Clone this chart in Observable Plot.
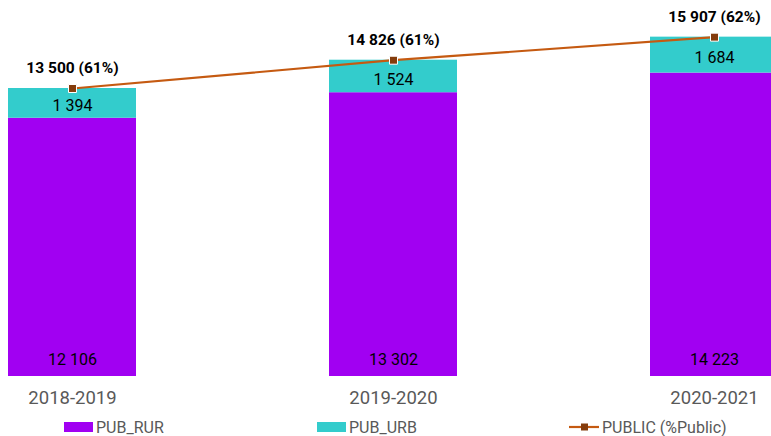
<!DOCTYPE html>
<html><head><meta charset="utf-8">
<script src="https://cdn.jsdelivr.net/npm/d3@7"></script>
<script src="https://cdn.jsdelivr.net/npm/@observablehq/plot@0.6"></script>
<style>
body{margin:0;background:#fff;}
#wrap{position:relative;width:771px;height:436px;overflow:hidden;}
.leg{position:absolute;top:418px;height:18px;font-family:Roboto,sans-serif;font-size:16px;color:#595959;display:flex;align-items:center;gap:3px;}
.sw{display:inline-block;width:29px;height:10px;}
</style></head>
<body><div id="wrap"></div>
<script>
const years = ["2018-2019","2019-2020","2020-2021"];
const pubRur = [12106, 13302, 14223];
const pubUrb = [1394, 1524, 1684];
const publicTotal = [13500, 14826, 15907];
const publicPct = [61, 61, 62];

const colRur = "#A100F2", colUrb = "#33CCCC", colLine = "#C55A11", colMark = "#843C0C";
const fmt = d3.formatLocale({thousands:" ", grouping:[3], decimal:",", currency:["",""]}).format(",d");

const stacked = [];
years.forEach((y,i)=>{
  stacked.push({year:y, series:"PUB_RUR", value:pubRur[i]});
  stacked.push({year:y, series:"PUB_URB", value:pubUrb[i]});
});
const rows = years.map((y,i)=>({year:y, rur:pubRur[i], urb:pubUrb[i], total:publicTotal[i], pct:publicPct[i]}));

const plot = Plot.plot({
  width: 771, height: 410,
  marginTop: 0, marginBottom: 34, marginLeft: 0, marginRight: 0,
  x: {type:"band", domain: years, range:[7.5, 777.9], paddingInner:0.6, paddingOuter:0, label:null, axis:null},
  y: {domain:[0, 17625], axis:null},
  color: {domain:["PUB_RUR","PUB_URB"], range:[colRur, colUrb]},
  style: {fontFamily:"Roboto, sans-serif", overflow:"visible"},
  marks: [
    Plot.barY(stacked, {x:"year", y:"value", fill:"series", order:["PUB_RUR","PUB_URB"]}),
    Plot.text(rows, {x:"year", y:0, text:d=>fmt(d.rur), dy:-17, fontSize:16, fill:"#000"}),
    Plot.text(rows, {x:"year", y:d=>d.rur + d.urb/2, text:d=>fmt(d.urb), dy:3, fontSize:16, fill:"#000"}),
    Plot.line(rows, {x:"year", y:"total", stroke:colLine, strokeWidth:2.2}),
    Plot.dot(rows, {x:"year", y:"total", symbol:"square", r:4.5, fill:colMark, stroke:"#fff", strokeWidth:1}),
    Plot.text(rows, {x:"year", y:"total", text:d=>fmt(d.total)+" ("+d.pct+"%)", dy:-20, fontSize:15.5, fontWeight:"bold", fill:"#000"}),
    Plot.text(years, {x:d=>d, frameAnchor:"bottom", lineAnchor:"middle", dy:22, fontSize:18.5, fill:"#595959", ariaLabel:"xaxis"})
  ]
});
const wrap = document.getElementById("wrap");
wrap.appendChild(plot);

const leg = [
  {x:64, label:"PUB_RUR", type:"sq", color:colRur},
  {x:317, label:"PUB_URB", type:"sq", color:colUrb},
  {x:569, label:"PUBLIC (%Public)", type:"line"}
];
leg.forEach(l=>{
  const d = document.createElement("div");
  d.className="leg"; d.style.left = l.x+"px";
  if(l.type==="sq"){
    d.innerHTML = `<span class="sw" style="background:${l.color}"></span><span>${l.label}</span>`;
  } else {
    d.innerHTML = `<svg width="30" height="10"><line x1="0" y1="5" x2="30" y2="5" stroke="${colLine}" stroke-width="2.2"/><rect x="12" y="1.5" width="7" height="7" fill="${colMark}"/></svg><span>${l.label}</span>`;
  }
  wrap.appendChild(d);
});
</script></body></html>
